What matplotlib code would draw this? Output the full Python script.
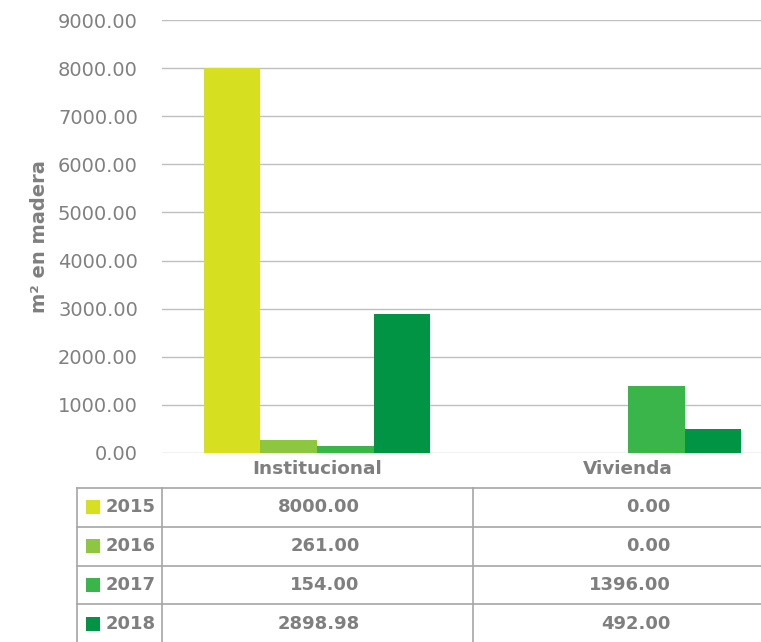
import matplotlib.pyplot as plt
import numpy as np

plt.rcParams["font.family"] = ["DejaVu Sans"]

categories = ["Institucional", "Vivienda"]
years = ["2015", "2016", "2017", "2018"]
values = {
    "2015": [8000.00, 0.00],
    "2016": [261.00, 0.00],
    "2017": [154.00, 1396.00],
    "2018": [2898.98, 492.00],
}
colors = ["#d6df20", "#8dc63f", "#39b54a", "#009444"]
yticks = [0, 1000, 2000, 3000, 4000, 5000, 6000, 7000, 8000, 9000]

W, H = 761, 642
fig = plt.figure(figsize=(W / 100, H / 100), dpi=100)

# main axes: pixel geometry -> figure fractions
px_left, px_cat = 161.5, 311
ax = fig.add_axes([px_left / W, (H - 453) / H, 2 * px_cat / W, 433 / H])
x = np.arange(len(categories))
bw = 0.182
for i, yr in enumerate(years):
    ax.bar(x + (i - 1.5) * bw, values[yr], width=bw, color=colors[i], zorder=3)

ax.set_xlim(-0.5, 1.5)
ax.set_ylim(0, 9000)
ax.set_yticks(yticks)
ax.set_yticklabels([f"{v:.2f}" for v in yticks], color="#808080", fontsize=14)
ax.set_xticks(x)
ax.set_xticklabels(categories, color="#7f7f7f", fontsize=13.3, fontweight="bold")
ax.tick_params(axis="y", length=0, pad=17)
ax.tick_params(axis="x", length=0, pad=5)
ax.grid(axis="y", color="#bfbfbf", linewidth=1.0, zorder=0)
for s in ax.spines.values():
    s.set_visible(False)

fig.text(40 / W, 1 - 237 / H, "m² en madera", rotation=90, ha="center", va="center",
         color="#7f7f7f", fontsize=14, fontweight="bold")

# data table below the chart
tab = fig.add_axes([px_left / W, (H - 643) / H, 2 * px_cat / W, 155 / H])
tab.set_xlim(-0.5, 1.5)
tab.set_ylim(4, 0)
tab.axis("off")
x_left = -0.5 - (px_left - 77) / px_cat
lc = "#a6a6a6"
for r in range(4):
    tab.plot([x_left, 1.6], [r, r], color=lc, lw=1.2, clip_on=False)
for xv in [x_left, -0.5, 0.5]:
    tab.plot([xv, xv], [0, 4.1], color=lc, lw=1.2, clip_on=False)

sq = -0.5 - (px_left - 92.5) / px_cat
lab = -0.5 - (px_left - 106) / px_cat
for r, yr in enumerate(years):
    tab.scatter([sq], [r + 0.5], marker="s", s=112, color=colors[r], linewidths=0,
                clip_on=False)
    tab.text(lab, r + 0.5, yr, ha="left", va="center", color="#7f7f7f",
             fontsize=13, fontweight="bold", clip_on=False)
    for c in range(len(categories)):
        tab.text(c + 0.137, r + 0.5, f"{values[yr][c]:.2f}", ha="right", va="center",
                 color="#7f7f7f", fontsize=13, fontweight="bold")

fig.savefig("out.png", dpi=100)
